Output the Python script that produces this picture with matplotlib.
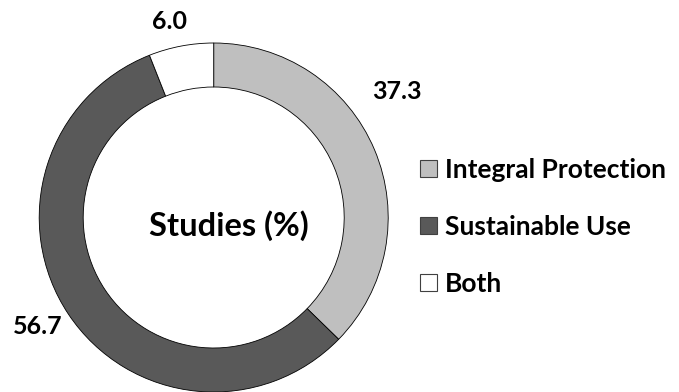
import numpy as np
import matplotlib.pyplot as plt
from matplotlib.patches import Patch

# donnees du graphique
categories = ["Integral Protection", "Sustainable Use", "Both"]
valeurs = [37.3, 56.7, 6.0]
couleurs = ["#BFBFBF", "#595959", "#FFFFFF"]
etiquettes = ["37.3", "56.7", "6.0"]

plt.rcParams['font.family'] = ['Lato', 'DejaVu Sans']

fig = plt.figure(figsize=(6.79, 3.92), dpi=100)
ax = fig.add_axes([0, 0, 1, 1])

cx, cy, r = 213.7, 174.5, 174.5
ax.pie(valeurs, colors=couleurs, startangle=90, counterclock=False,
       center=(cx, cy), radius=r, frame=True,
       wedgeprops=dict(width=44, edgecolor='black', linewidth=0.6))
ax.set_xlim(0, 679)
ax.set_ylim(0, 392)
ax.set_aspect('equal')
ax.axis('off')

# position des etiquettes (angle en degres, distance au centre)
pos = [(34.5, 222), (211.9, 207), (102.6, 201)]
for (a, d), t in zip(pos, etiquettes):
    x = cx + d*np.cos(np.radians(a))
    y = cy + d*np.sin(np.radians(a))
    ax.text(x, y, t, ha='center', va='center', fontsize=18, fontweight='bold')

ax.text(cx+15, cy-8, "Studies (%)", ha='center', va='center',
        fontsize=23.5, fontweight='bold')

poignees = [Patch(facecolor=c, edgecolor='#404040', linewidth=0.8) for c in couleurs]
leg = ax.legend(poignees, categories, loc='center left',
                bbox_to_anchor=(0.6186, 0.421), frameon=False,
                borderpad=0, borderaxespad=0,
                prop=dict(size=19, weight='bold'),
                handlelength=0.64, handleheight=0.64, handletextpad=0.3,
                labelspacing=1.25)

fig.savefig("out.png", dpi=100)
